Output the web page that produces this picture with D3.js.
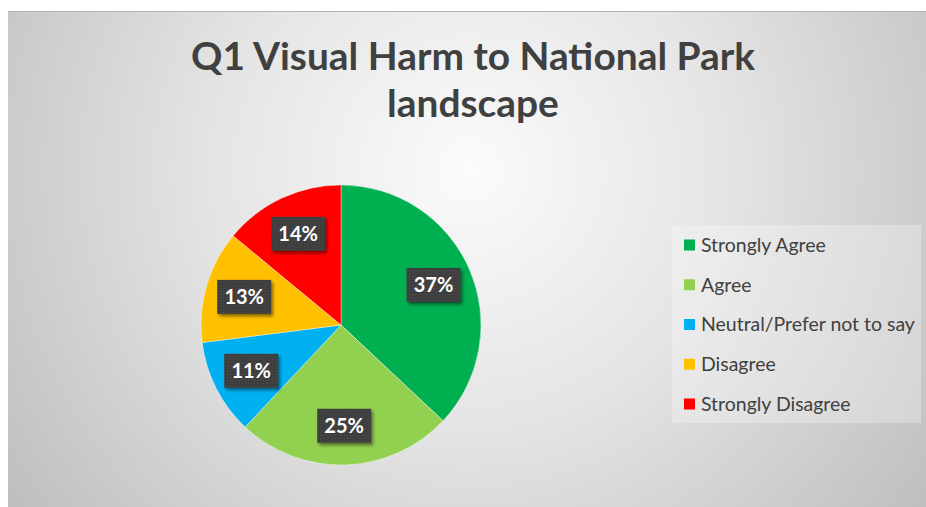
<!DOCTYPE html>
<html>
<head>
<meta charset="utf-8">
<script src="https://cdn.jsdelivr.net/npm/d3@7/dist/d3.min.js"></script>
<style>
  html, body { margin: 0; padding: 0; background: #ffffff; }
  svg { display: block; }
  text { font-family: Lato, "Open Sans", "Noto Sans", sans-serif; }
</style>
</head>
<body>
<svg id="chart" width="926" height="507"></svg>
<script>
// Survey responses
const categories = ["Strongly Agree", "Agree", "Neutral/Prefer not to say", "Disagree", "Strongly Disagree"];
const shares = [37, 25, 11, 13, 14];
const sliceColors = ["#00B050", "#92D050", "#00B0F0", "#FFC000", "#FF0000"];
const titleLines = ["Q1 Visual Harm to National Park", "landscape"];

const W = 926, H = 507;
const svg = d3.select("#chart");
const defs = svg.append("defs");

// Chart area background: soft radial gradient
const bg = defs.append("radialGradient").attr("id", "bgGrad")
  .attr("gradientUnits", "userSpaceOnUse")
  .attr("cx", 470).attr("cy", 170).attr("r", 580);
bg.append("stop").attr("offset", "0%").attr("stop-color", "#fbfbfb");
bg.append("stop").attr("offset", "45%").attr("stop-color", "#e4e4e4");
bg.append("stop").attr("offset", "100%").attr("stop-color", "#bdbdbd");

// Dotted dark texture for the data-label boxes
const pat = defs.append("pattern").attr("id", "lblPat")
  .attr("patternUnits", "userSpaceOnUse").attr("width", 3).attr("height", 3);
pat.append("rect").attr("width", 3).attr("height", 3).attr("fill", "#3b3b3b");
pat.append("rect").attr("x", 0).attr("y", 0).attr("width", 1).attr("height", 1).attr("fill", "#575757");
pat.append("rect").attr("x", 1.5).attr("y", 1.5).attr("width", 1).attr("height", 1).attr("fill", "#4a4a4a");

const sh = defs.append("filter").attr("id", "lblShadow")
  .attr("x", "-30%").attr("y", "-30%").attr("width", "160%").attr("height", "170%");
sh.append("feDropShadow").attr("dx", 2).attr("dy", 2.5).attr("stdDeviation", 1.6)
  .attr("flood-color", "#000").attr("flood-opacity", 0.45);

// Chart frame
svg.append("rect").attr("x", 8).attr("y", 11).attr("width", W - 8).attr("height", H - 11)
  .attr("fill", "url(#bgGrad)");
svg.append("line").attr("x1", 8).attr("x2", W).attr("y1", 11.5).attr("y2", 11.5)
  .attr("stroke", "#b4b4b4").attr("stroke-width", 1);

// Title, two centred lines
const title = svg.append("g");
const titleBaselines = [70, 117];
titleLines.forEach((t, i) => {
  title.append("text")
    .attr("x", 473).attr("y", titleBaselines[i])
    .attr("text-anchor", "middle")
    .attr("font-size", 36).attr("font-weight", 700)
    .attr("fill", "#404040")
    .text(t);
});
// Scale the title so the first line spans its intended width
const first = title.select("text").node();
const fs = 36 * 564 / first.getComputedTextLength();
title.selectAll("text").attr("font-size", fs);

// Pie
const cx = 341, cy = 325, r = 140;
const pie = d3.pie().sort(null).value(d => d)
  .startAngle(0).endAngle(2 * Math.PI);
const arcs = pie(shares);
const arc = d3.arc().innerRadius(0).outerRadius(r);
const labelArc = d3.arc().innerRadius(r * 0.72).outerRadius(r * 0.72);

const g = svg.append("g").attr("transform", `translate(${cx},${cy})`);
g.selectAll("path.slice").data(arcs).join("path")
  .attr("class", "slice")
  .attr("d", arc)
  .attr("fill", (d, i) => sliceColors[i])
  .attr("stroke", "#ffffff").attr("stroke-width", 0.4);

// Data labels
const lbl = g.selectAll("g.lbl").data(arcs).join("g")
  .attr("class", "lbl")
  .attr("transform", d => {
    const [x, y] = labelArc.centroid(d);
    return `translate(${x},${y})`;
  });
lbl.append("rect")
  .attr("x", -27).attr("y", -17).attr("width", 54).attr("height", 34)
  .attr("fill", "url(#lblPat)")
  .attr("filter", "url(#lblShadow)");
lbl.append("text")
  .attr("text-anchor", "middle").attr("dy", "0.36em")
  .attr("font-size", 20).attr("font-weight", 700)
  .attr("fill", "#ffffff")
  .text(d => d.data + "%");

// Legend
const legend = svg.append("g");
legend.append("rect").attr("x", 672).attr("y", 225).attr("width", 249).attr("height", 198)
  .attr("fill", "#ffffff").attr("fill-opacity", 0.28);
const rowY = d3.scalePoint().domain(categories).range([245, 404]);
const items = legend.selectAll("g.item").data(categories).join("g")
  .attr("class", "item")
  .attr("transform", d => `translate(684,${rowY(d)})`);
items.append("rect").attr("x", 0).attr("y", -5.5).attr("width", 11).attr("height", 11)
  .attr("fill", (d, i) => sliceColors[i]);
const legendText = items.append("text").attr("x", 17).attr("dy", "0.35em")
  .attr("font-size", 19).attr("fill", "#404040")
  .text(d => d);
// Size legend text so the longest entry ends near the box edge
const longest = d3.max(legendText.nodes(), n => n.getComputedTextLength());
legendText.attr("font-size", Math.min(19.5, 19 * 214 / longest));
</script>
</body>
</html>
